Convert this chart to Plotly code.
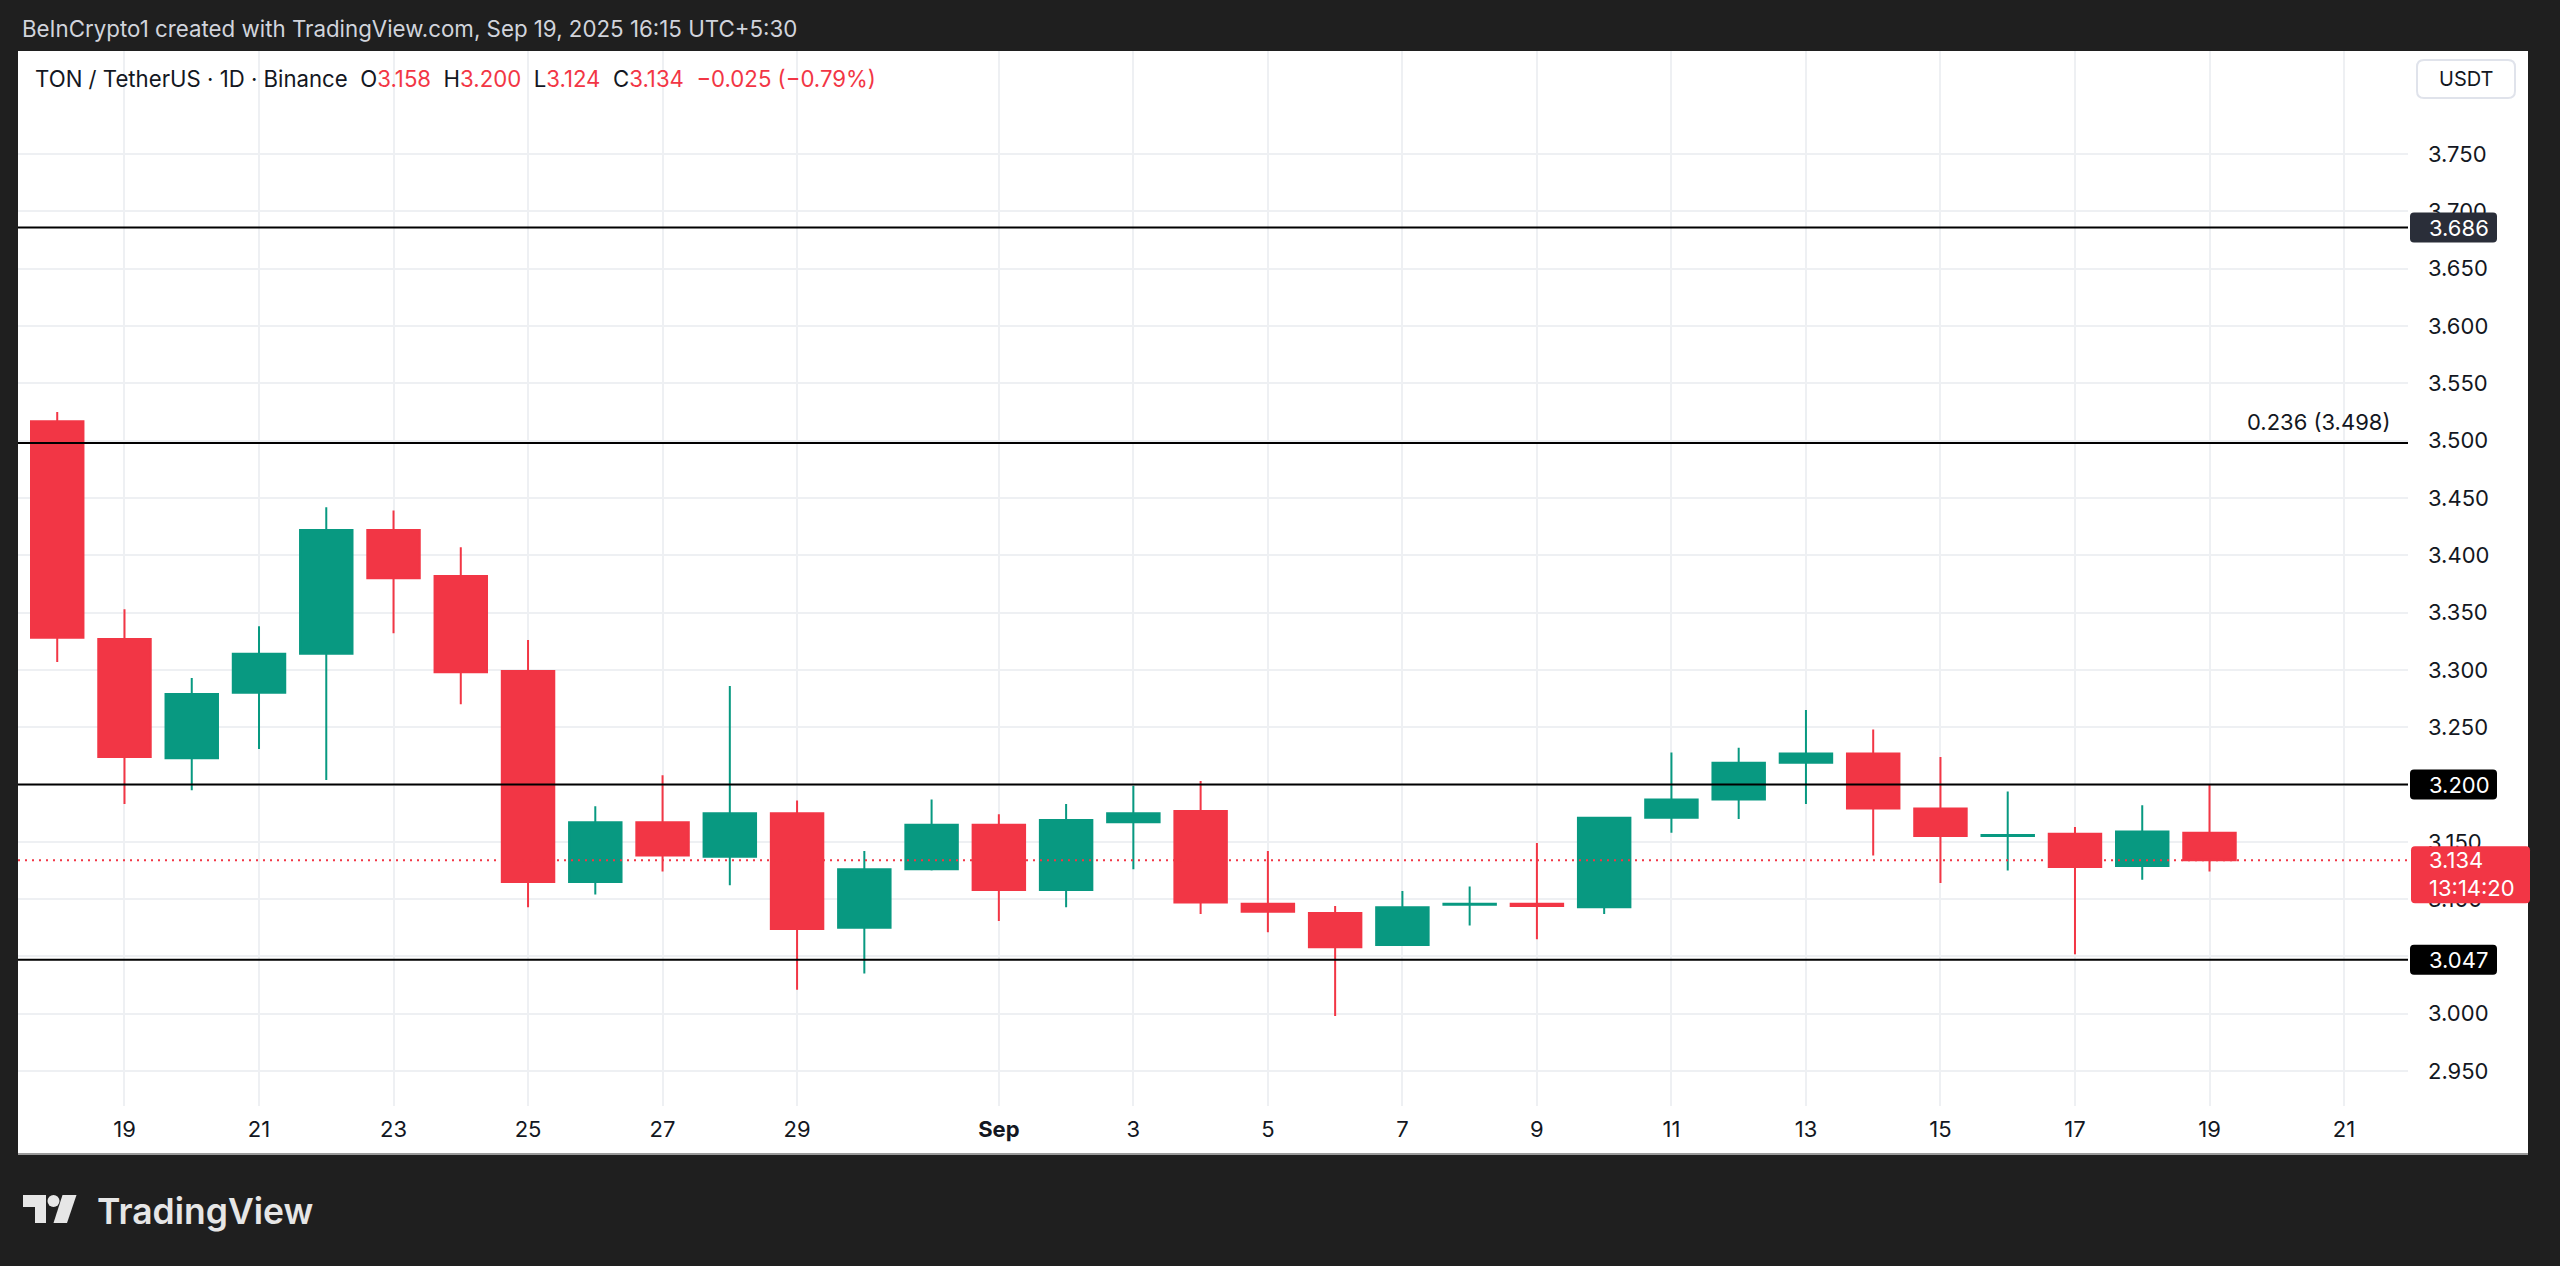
import pandas as pd
import plotly.graph_objects as go

# ---------------- data ----------------
dates = pd.date_range("2025-08-18", "2025-09-19", freq="D")
open_ = [3.517, 3.327, 3.223, 3.280, 3.314, 3.422, 3.382, 3.299, 3.115, 3.167,
         3.137, 3.175, 3.075, 3.126, 3.165, 3.108, 3.167, 3.177, 3.096, 3.088,
         3.060, 3.095, 3.096, 3.093, 3.171, 3.187, 3.219, 3.227, 3.179, 3.155,
         3.157, 3.129, 3.158]
high = [3.525, 3.353, 3.293, 3.338, 3.442, 3.439, 3.407, 3.326, 3.181, 3.208,
        3.286, 3.186, 3.142, 3.187, 3.174, 3.183, 3.199, 3.203, 3.142, 3.094,
        3.107, 3.111, 3.149, 3.171, 3.228, 3.232, 3.265, 3.248, 3.224, 3.194,
        3.163, 3.182, 3.200]
low = [3.307, 3.183, 3.195, 3.231, 3.204, 3.332, 3.270, 3.093, 3.104, 3.124,
       3.112, 3.021, 3.035, 3.125, 3.081, 3.093, 3.126, 3.087, 3.071, 2.998,
       3.059, 3.077, 3.065, 3.087, 3.158, 3.170, 3.183, 3.138, 3.114, 3.125,
       3.052, 3.117, 3.124]
close = [3.328, 3.224, 3.279, 3.314, 3.422, 3.380, 3.298, 3.115, 3.167, 3.138,
         3.175, 3.074, 3.126, 3.165, 3.108, 3.169, 3.175, 3.097, 3.089, 3.058,
         3.093, 3.096, 3.094, 3.171, 3.187, 3.219, 3.227, 3.179, 3.155, 3.156,
         3.128, 3.159, 3.134]

level_lines = [3.686, 3.498, 3.200, 3.047]
fib_label = "0.236 (3.498)"
last_price = 3.134
countdown = "13:14:20"

price_ticks = [2.95, 3.00, 3.05, 3.10, 3.15, 3.20, 3.25, 3.30, 3.35, 3.40, 3.45,
               3.50, 3.55, 3.60, 3.65, 3.70, 3.75]
tick_dates = ["2025-08-19", "2025-08-21", "2025-08-23", "2025-08-25", "2025-08-27",
              "2025-08-29", "2025-09-01", "2025-09-03", "2025-09-05", "2025-09-07",
              "2025-09-09", "2025-09-11", "2025-09-13", "2025-09-15", "2025-09-17",
              "2025-09-19", "2025-09-21"]
tick_text = ["19", "21", "23", "25", "27", "29", "<b>Sep</b>", "3", "5", "7", "9",
             "11", "13", "15", "17", "19", "21"]

header = "BeInCrypto1 created with TradingView.com, Sep 19, 2025 16:15 UTC+5:30"

# ---------------- styling / geometry ----------------
RED = "#F23645"
GREEN = "#089981"
TXT = "#131722"
BG = "#1f1f1f"
GRID = "#eef0f3"
FONT = "Inter"

FW, FH = 2560, 1266
L, R, T, B = 18, 152, 51, 160
W = FW - L - R
H = FH - T - B


def px(x):
    return (x - L) / W


def py(y):
    return (FH - B - y) / H


fig = go.Figure()
fig.add_trace(go.Candlestick(
    x=dates, open=open_, high=high, low=low, close=close,
    increasing=dict(line=dict(color=GREEN, width=2), fillcolor=GREEN),
    decreasing=dict(line=dict(color=RED, width=2), fillcolor=RED),
    whiskerwidth=0, hoverinfo="skip", showlegend=False,
))

shapes = []
# white panel behind everything
shapes.append(dict(type="rect", xref="paper", yref="paper", layer="below",
                   x0=px(18), x1=px(2528), y0=py(1153), y1=py(51),
                   fillcolor="white", line=dict(width=0)))
shapes.append(dict(type="line", xref="paper", yref="paper", layer="below",
                   x0=px(18), x1=px(2528), y0=py(1154), y1=py(1154),
                   line=dict(color="#9a9a9a", width=2)))
# horizontal levels
for v in level_lines:
    shapes.append(dict(type="line", xref="paper", yref="y", x0=0, x1=1, y0=v, y1=v,
                       line=dict(color="#000000", width=2), layer="above"))
# last price dotted line
shapes.append(dict(type="line", xref="paper", yref="y", x0=0, x1=1,
                   y0=last_price, y1=last_price,
                   line=dict(color=RED, width=2, dash="2px,5px")))


def rrect(x0, y0, x1, y1, r):
    # path in pixel units relative to anchor; y up positive
    return (f"M {x0+r},{y0} L {x1-r},{y0} Q {x1},{y0} {x1},{y0-r} "
            f"L {x1},{y1+r} Q {x1},{y1} {x1-r},{y1} L {x0+r},{y1} "
            f"Q {x0},{y1} {x0},{y1+r} L {x0},{y0-r} Q {x0},{y0} {x0+r},{y0} Z")


# price axis label boxes (pixel-sized, anchored to price)
axis_boxes = [(3.686, "#2a2e39"), (3.200, "#000000"), (3.047, "#000000")]
for v, col in axis_boxes:
    shapes.append(dict(type="path", xref="paper", yref="y", xsizemode="pixel",
                       ysizemode="pixel", xanchor=1, yanchor=v,
                       path=rrect(2, 15, 89, -15, 4),
                       fillcolor=col, line=dict(width=0), layer="above"))
shapes.append(dict(type="path", xref="paper", yref="y", xsizemode="pixel",
                   ysizemode="pixel", xanchor=1, yanchor=last_price,
                   path=rrect(3, 14, 122, -43, 4),
                   fillcolor=RED, line=dict(width=0), layer="above"))
# USDT box
shapes.append(dict(type="path", xref="paper", yref="paper", xsizemode="pixel",
                   ysizemode="pixel", xanchor=0, yanchor=0,
                   path=rrect(2417 - L, (FH - B) - 60, 2515 - L, (FH - B) - 98, 7),
                   fillcolor="white", line=dict(color="#e0e3eb", width=2),
                   layer="above"))
# TradingView logo icon
shapes.append(dict(type="rect", xref="paper", yref="paper", x0=px(23), x1=px(46),
                   y0=py(1207), y1=py(1195), fillcolor="#e6e6e6", line=dict(width=0)))
shapes.append(dict(type="rect", xref="paper", yref="paper", x0=px(35), x1=px(46),
                   y0=py(1223), y1=py(1195), fillcolor="#e6e6e6", line=dict(width=0)))
shapes.append(dict(type="circle", xref="paper", yref="paper", x0=px(47.5), x1=px(59.5),
                   y0=py(1207), y1=py(1195), fillcolor="#e6e6e6", line=dict(width=0)))
shapes.append(dict(type="path", xref="paper", yref="paper",
                   path=(f"M {px(62.5)},{py(1195)} L {px(76.5)},{py(1195)} "
                         f"L {px(67)},{py(1223)} L {px(53.5)},{py(1223)} Z"),
                   fillcolor="#e6e6e6", line=dict(width=0)))

ann = []
ann.append(dict(text=header, xref="paper", yref="paper", x=px(20), y=py(28),
                xanchor="left", yanchor="middle", showarrow=False,
                font=dict(family=FONT, size=22.3, color="#d1d4dc")))
sp = "\u00a0"
legend = (f"TON / TetherUS · 1D · Binance{sp*2}"
          f"O<span style='color:{RED}'>3.158</span>{sp*2}"
          f"H<span style='color:{RED}'>3.200</span>{sp*2}"
          f"L<span style='color:{RED}'>3.124</span>{sp*2}"
          f"C<span style='color:{RED}'>3.134</span>{sp*2}"
          f"<span style='color:{RED}'>−0.025 (−0.79%)</span>")
ann.append(dict(text=legend, xref="paper", yref="paper", x=px(33), y=py(78),
                xanchor="left", yanchor="middle", showarrow=False,
                font=dict(family=FONT, size=22.2, color=TXT)))
ann.append(dict(text=fib_label, xref="paper", yref="y", x=px(2392), y=level_lines[1],
                xanchor="right", yanchor="bottom", yshift=6, showarrow=False,
                font=dict(family=FONT, size=22, color=TXT)))
ann.append(dict(text="USDT", xref="paper", yref="paper", x=px(2466), y=py(79),
                xanchor="center", yanchor="middle", showarrow=False,
                font=dict(family=FONT, size=20, color=TXT)))
for v, col in axis_boxes:
    ann.append(dict(text=f"{v:.3f}", xref="paper", yref="y", x=px(2427), y=v,
                    xanchor="left", yanchor="middle", showarrow=False,
                    font=dict(family=FONT, size=22, color="white")))
ann.append(dict(text=f"{last_price:.3f}", xref="paper", yref="y", x=px(2427),
                y=last_price, xanchor="left", yanchor="middle", showarrow=False,
                font=dict(family=FONT, size=22, color="white")))
ann.append(dict(text=countdown, xref="paper", yref="y", x=px(2427),
                y=last_price, yshift=-28, xanchor="left", yanchor="middle",
                showarrow=False, font=dict(family=FONT, size=22, color="white")))
ann.append(dict(text="TradingView", xref="paper", yref="paper", x=px(95), y=py(1211),
                xanchor="left", yanchor="middle", showarrow=False,
                font=dict(family=FONT, size=35.5, color="#e6e6e6", weight=600)))

fig.update_layout(
    width=FW, height=FH,
    margin=dict(l=L, r=R, t=T, b=B, pad=0),
    paper_bgcolor=BG, plot_bgcolor="white",
    boxgap=0.22, boxgroupgap=0,
    shapes=shapes, annotations=ann,
    showlegend=False,
    font=dict(family=FONT, size=22, color=TXT),
    xaxis=dict(type="date", range=["2025-08-17 10:00", "2025-09-21 22:50"],
               rangeslider=dict(visible=False),
               tickvals=tick_dates, ticktext=tick_text,
               showgrid=True, gridcolor=GRID, gridwidth=1.5,
               showline=False, zeroline=False, ticks="",
               ticklabelstandoff=8,
               tickfont=dict(family=FONT, size=22, color=TXT), fixedrange=True),
    yaxis=dict(side="right", range=[2.9195, 3.840], tickvals=price_ticks,
               tickformat=".3f", showgrid=True, gridcolor=GRID, gridwidth=1.5,
               showline=False, zeroline=False, ticks="", ticklabelstandoff=19,
               tickfont=dict(family=FONT, size=22, color=TXT), fixedrange=True),
)

fig.write_html(
    "out.html",
    config={"displayModeBar": False},
    post_script="document.body.style.margin='0';document.body.style.background='#1f1f1f';",
)
